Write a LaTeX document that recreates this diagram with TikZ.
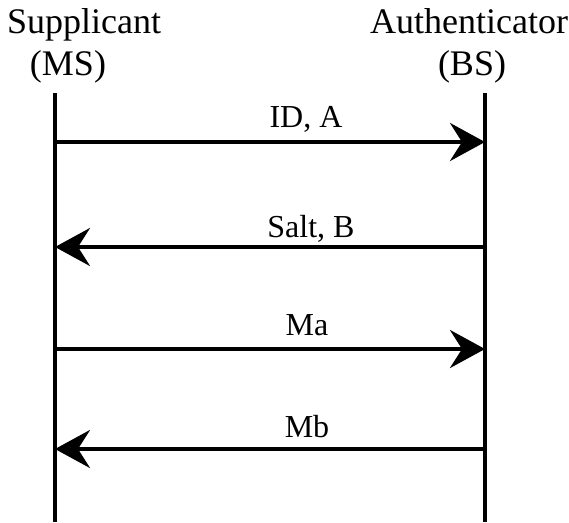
\documentclass[tikz,border=0pt]{standalone}
\usepackage{fontspec}
\setmainfont{Liberation Serif}
\usepackage{tikz}
\usetikzlibrary{arrows.meta, positioning, calc}

\begin{document}
\begin{tikzpicture}[
    x=1pt, y=-1pt,
    head/.style={anchor=base, inner sep=0pt, font=\fontsize{36}{40}\selectfont},
    msg/.style={anchor=base, inner sep=0pt, font=\fontsize{32}{36}\selectfont},
    life/.style={line width=4.5pt},
    arrow/.style={-{Stealth[length=35pt, width=38pt, inset=12pt]}, line width=4pt},
]
\useasboundingbox (0,0) rectangle (569,522);

% entities
\node[head] (sup) at (84,33) {Supplicant};
\node[head] (ms) at (68,75) {(MS)};
\node[head] (auth) at (469,33) {Authenticator};
\node[head] (bs) at (472,75) {(BS)};

% lifelines
\coordinate (mstop) at (55,93);
\coordinate (msbot) at (55,522);
\coordinate (bstop) at (485,93);
\coordinate (bsbot) at (485,522);
\draw[life] (mstop) -- (msbot);
\draw[life] (bstop) -- (bsbot);

% message ends
\coordinate (m1) at (55,142);  \coordinate (b1) at (485,142);
\coordinate (m2) at (55,247);  \coordinate (b2) at (485,247);
\coordinate (m3) at (55,349);  \coordinate (b3) at (485,349);
\coordinate (m4) at (55,449);  \coordinate (b4) at (485,449);

\draw[arrow] (m1) -- (b1);
\draw[arrow] (b2) -- (m2);
\draw[arrow] (m3) -- (b3);
\draw[arrow] (b4) -- (m4);

\node[msg] (l1) at (306,127) {ID, A};
\node[msg] (l2) at (311,237) {Salt, B};
\node[msg] (l3) at (307,335) {Ma};
\node[msg] (l4) at (307,437) {Mb};
\end{tikzpicture}
\end{document}
